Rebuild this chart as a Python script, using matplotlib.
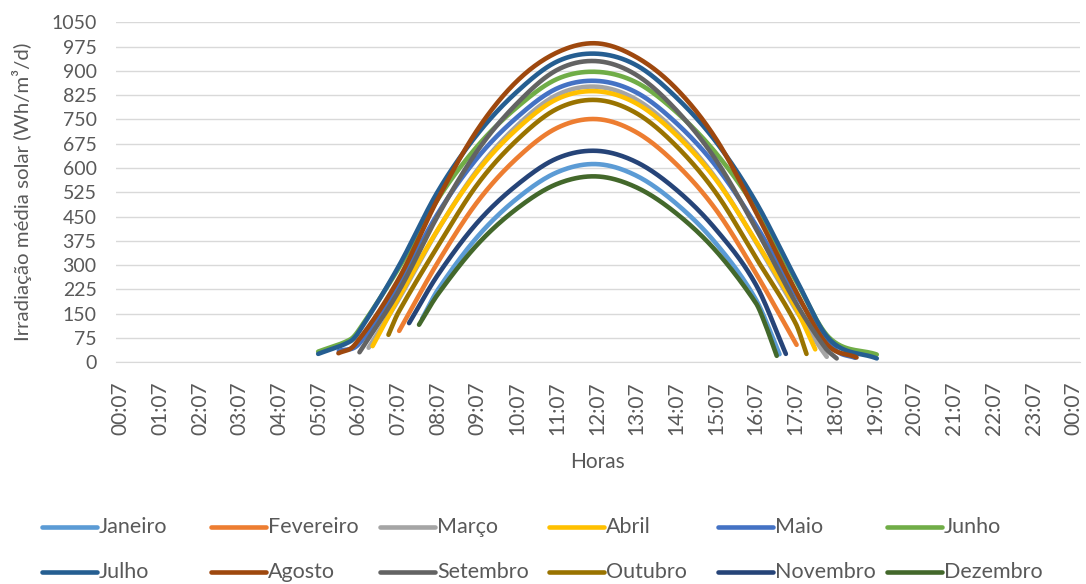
import numpy as np
import matplotlib.pyplot as plt
from matplotlib.lines import Line2D

plt.rcParams['font.family'] = ['Lato', 'DejaVu Sans']

# hours after 00:07, values in Wh/m3/d
jan_h = [7.6, 8, 9, 10, 11, 12, 13, 14, 15, 16, 16.6]
jan_v = [135, 225, 389, 507, 587, 612, 576, 490, 367, 195, 25]
fev_h = [7.02, 8, 9, 10, 11, 12, 13, 14, 15, 16, 17.03]
fev_v = [97, 310, 497, 632, 724, 751, 710, 612, 471, 276, 54]
mar_h = [6.25, 7, 8, 9, 10, 11, 12, 13, 14, 15, 16, 17, 17.6, 17.79]
mar_v = [45, 193, 410, 596, 732, 826, 851, 811, 711, 568, 373, 164, 50, 17]
abr_h = [6.35, 7, 8, 9, 10, 11, 12, 13, 14, 15, 16, 17, 17.5]
abr_v = [50, 198, 411, 591, 722, 813, 837, 799, 702, 564, 375, 170, 40]
mai_h = [5.5, 6, 7, 8, 9, 10, 11, 12, 13, 14, 15, 16, 17, 18.0, 18.5]
mai_v = [35, 56, 240, 461, 633, 758, 846, 869, 833, 739, 606, 425, 212, 40, 14]
jun_h = [4.98, 5.78, 6, 7, 8, 9, 10, 11, 12, 13, 14, 15, 16, 17, 17.87, 19.05]
jun_v = [33, 70, 99, 289, 505, 669, 789, 875, 897, 864, 773, 646, 475, 255, 74, 24]
jul_h = [4.98, 5.78, 6, 7, 8, 9, 10, 11, 12, 13, 14, 15, 16, 17, 17.87, 19.05]
jul_v = [26, 64, 93, 295, 529, 706, 837, 929, 953, 917, 818, 681, 496, 261, 69, 12]
ago_h = [5.49, 5.9, 7, 8, 9, 10, 11, 12, 13, 14, 15, 16, 17, 17.8, 18.54]
ago_v = [28, 54, 256, 506, 720, 870, 957, 985, 942, 845, 690, 465, 223, 55, 15]
set_h = [6.02, 7, 8, 9, 10, 11, 12, 13, 14, 15, 16, 17, 17.75, 18.04]
set_v = [31, 218, 454, 655, 801, 903, 930, 887, 779, 625, 414, 186, 45, 12]
out_h = [6.75, 7, 8, 9, 10, 11, 12, 13, 14, 15, 16, 17, 17.28]
out_v = [85, 154, 360, 551, 688, 783, 810, 769, 668, 523, 324, 122, 26]
nov_h = [7.27, 8, 9, 10, 11, 12, 13, 14, 15, 16, 16.76]
nov_v = [121, 271, 433, 549, 630, 653, 618, 533, 410, 241, 26]
dez_h = [7.52, 8, 9, 10, 11, 12, 13, 14, 15, 16, 16.23, 16.53]
dez_v = [116, 211, 365, 476, 551, 574, 540, 460, 344, 184, 121, 20]

months = ['Janeiro', 'Fevereiro', 'Março', 'Abril', 'Maio', 'Junho',
          'Julho', 'Agosto', 'Setembro', 'Outubro', 'Novembro', 'Dezembro']
series = [(jan_h, jan_v), (fev_h, fev_v), (mar_h, mar_v), (abr_h, abr_v),
          (mai_h, mai_v), (jun_h, jun_v), (jul_h, jul_v), (ago_h, ago_v),
          (set_h, set_v), (out_h, out_v), (nov_h, nov_v), (dez_h, dez_v)]
colors = ['#5B9BD5', '#ED7D31', '#A5A5A5', '#FFC000', '#4472C4', '#70AD47',
          '#255E91', '#9E480E', '#636363', '#997300', '#264478', '#43682B']
tick_labels = ['%02d:07' % (i % 24) for i in range(25)]
y_ticks = list(range(0, 1051, 75))


def smooth(xs, ys, n=30):
    # cubic hermite through the points, like a smoothed excel line
    xs = np.asarray(xs, float)
    ys = np.asarray(ys, float)
    m = np.zeros_like(ys)
    m[0] = (ys[1] - ys[0]) / (xs[1] - xs[0])
    m[-1] = (ys[-1] - ys[-2]) / (xs[-1] - xs[-2])
    m[1:-1] = (ys[2:] - ys[:-2]) / (xs[2:] - xs[:-2])
    ox, oy = [], []
    for i in range(len(xs) - 1):
        h = xs[i + 1] - xs[i]
        t = np.linspace(0, 1, n, endpoint=False)
        h00 = 2 * t**3 - 3 * t**2 + 1
        h10 = t**3 - 2 * t**2 + t
        h01 = -2 * t**3 + 3 * t**2
        h11 = t**3 - t**2
        ox.append(xs[i] + t * h)
        oy.append(h00 * ys[i] + h10 * h * m[i] + h01 * ys[i + 1] + h11 * h * m[i + 1])
    ox.append([xs[-1]])
    oy.append([ys[-1]])
    return np.concatenate(ox), np.concatenate(oy)


fig = plt.figure(figsize=(10.86, 5.84), dpi=100)
ax = fig.add_axes([116 / 1086, 1 - 362.3 / 584, (1080 - 116) / 1086, (362.3 - 22.3) / 584])

txt = '#595959'
for (hh, vv), c in zip(series, colors):
    sx, sy = smooth(hh, vv)
    ax.plot(sx, sy, color=c, lw=3.3, solid_capstyle='round', solid_joinstyle='round')

ax.set_ylim(0, 1050)
ax.set_xlim(-0.113, 24.169)
ax.set_yticks(y_ticks)
ax.set_xticks(range(25))
ax.set_xticklabels(tick_labels, rotation=90)
ax.tick_params(length=0, colors=txt)
ax.tick_params(axis='x', pad=14, labelsize=15)
ax.tick_params(axis='y', pad=14, labelsize=14)
ax.grid(axis='y', color='#D9D9D9', lw=1)
ax.set_axisbelow(True)
for s in ['top', 'right', 'left']:
    ax.spines[s].set_visible(False)
ax.spines['bottom'].set_color('#D9D9D9')
ax.set_xlabel('Horas', color=txt, fontsize=15, labelpad=12)
ax.set_ylabel('Irradiação média solar (Wh/m³/d)', color=txt, fontsize=14.7, labelpad=14)

# legend laid out like excel: 6 equal columns, 2 rows
for i, (name, c) in enumerate(zip(months, colors)):
    col, row = i % 6, i // 6
    x0 = (42 + col * 169) / 1086
    y0 = 1 - (527 + row * 45) / 584
    fig.add_artist(Line2D([x0, x0 + 55 / 1086], [y0, y0], color=c, lw=3.3,
                          solid_capstyle='round', transform=fig.transFigure))
    fig.text(x0 + 57 / 1086, y0, name, color=txt, fontsize=15.5, va='center', ha='left')

fig.savefig('out.png', dpi=100)
